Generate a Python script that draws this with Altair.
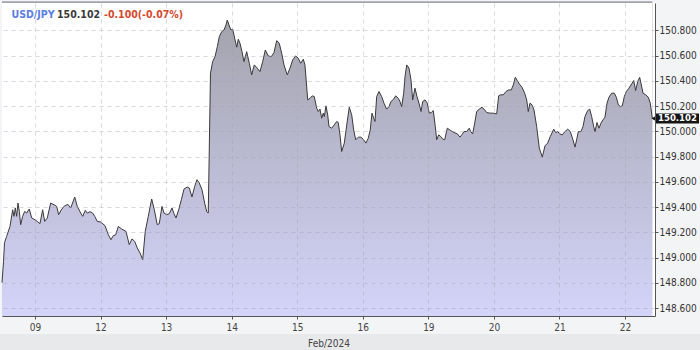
import altair as alt
import pandas as pd

FONT = "DejaVu Sans Condensed, DejaVu Sans"

symbol = "USD/JPY"
last_text = "150.102"
change_text = "-0.100(-0.07%)"
day_labels = ["09", "12", "13", "14", "15", "16", "19", "20", "21", "22"]
month_label = "Feb/2024"
y_ticks = [148.6, 148.8, 149.0, 149.2, 149.4, 149.6, 149.8, 150.0, 150.2, 150.4, 150.6, 150.8]

# time in trading-day units (0 = 09 Feb, 1 = 12 Feb, ...)
t_days = [
    -0.503, -0.480, -0.465, -0.432, -0.381, -0.340, -0.320, -0.300, -0.279, -0.259,
    -0.239, -0.218, -0.188, -0.157, -0.127, -0.087, -0.050, 0.000, 0.035, 0.076,
    0.117, 0.148, 0.188, 0.239, 0.290, 0.331, 0.361, 0.401, 0.453, 0.503,
    0.545, 0.606, 0.645, 0.697, 0.728, 0.767, 0.798, 0.839, 0.880, 0.911,
    0.950, 1.002,
    1.068, 1.118, 1.159, 1.194, 1.231, 1.271, 1.322, 1.388, 1.438, 1.480,
    1.521, 1.560, 1.602, 1.643, 1.682, 1.728, 1.780, 1.820, 1.865, 1.896,
    1.937, 1.968, 2.009, 2.049, 2.090, 2.120, 2.151, 2.192, 2.232, 2.273,
    2.323, 2.354, 2.395, 2.436, 2.471, 2.506, 2.547, 2.588, 2.619, 2.643,
    2.677, 2.710, 2.746, 2.781, 2.811, 2.848, 2.883, 2.913, 2.933, 2.964,
    2.990, 3.016, 3.046, 3.077, 3.101, 3.127, 3.157, 3.188, 3.229, 3.269,
    3.305, 3.345, 3.391, 3.432, 3.473, 3.513, 3.559, 3.604, 3.645, 3.687,
    3.726, 3.763, 3.798, 3.848, 3.890, 3.931, 3.976, 4.016, 4.053, 4.092,
    4.118, 4.160, 4.195, 4.230, 4.260, 4.297, 4.321, 4.347, 4.373, 4.397,
    4.413, 4.439, 4.465, 4.484, 4.526, 4.565, 4.602, 4.626, 4.652, 4.678,
    4.718, 4.759, 4.794, 4.831, 4.861, 4.892, 4.931, 4.972, 5.014, 5.049,
    5.084, 5.114, 5.140, 5.166, 5.186, 5.212, 5.247, 5.288, 5.323, 5.364,
    5.400, 5.430, 5.471, 5.502, 5.541, 5.567, 5.593, 5.624, 5.644, 5.670,
    5.705, 5.735, 5.761, 5.796, 5.827, 5.857, 5.888, 5.914, 5.949, 5.984,
    6.014, 6.045, 6.075, 6.106, 6.127, 6.158, 6.188, 6.219, 6.249, 6.289,
    6.341, 6.391, 6.441, 6.482, 6.513, 6.544, 6.585, 6.624, 6.646, 6.676,
    6.707, 6.737, 6.777, 6.818, 6.849, 6.890, 6.940, 6.990, 7.042, 7.073,
    7.103, 7.143, 7.184, 7.225, 7.265, 7.296, 7.326, 7.356, 7.387, 7.428,
    7.469, 7.500, 7.524, 7.550, 7.580, 7.611, 7.652, 7.692, 7.738, 7.779,
    7.820, 7.860, 7.912, 7.942, 7.973, 8.003, 8.043, 8.084, 8.125, 8.165,
    8.206, 8.237, 8.267, 8.287, 8.328, 8.359, 8.389, 8.430, 8.461, 8.491,
    8.522, 8.542, 8.572, 8.603, 8.633, 8.664, 8.694, 8.725, 8.755, 8.796,
    8.836, 8.867, 8.897, 8.928, 8.958, 8.989, 9.019, 9.060, 9.101, 9.132,
    9.162, 9.193, 9.223, 9.243, 9.274, 9.315, 9.355, 9.385, 9.416,
]

price = [
    148.802, 148.968, 149.119, 149.168, 149.247, 149.379, 149.327, 149.393, 149.327, 149.432,
    149.366, 149.261, 149.327, 149.366, 149.353, 149.385, 149.314, 149.300, 149.287, 149.269,
    149.379, 149.287, 149.314, 149.432, 149.419, 149.406, 149.340, 149.379, 149.411, 149.421,
    149.393, 149.480, 149.406, 149.353, 149.327, 149.374, 149.353, 149.364, 149.353, 149.327,
    149.287, 149.282,
    149.253, 149.182, 149.142, 149.174, 149.180, 149.247, 149.227, 149.208, 149.103, 149.148,
    149.129, 149.077, 149.037, 148.984, 149.208, 149.327, 149.464, 149.379, 149.261, 149.269,
    149.406, 149.353, 149.340, 149.348, 149.393, 149.348, 149.314, 149.379, 149.458, 149.543,
    149.559, 149.551, 149.480, 149.564, 149.617, 149.591, 149.538, 149.432, 149.366, 149.353,
    150.460, 150.552, 150.591, 150.670, 150.749, 150.789, 150.802, 150.842, 150.881, 150.834,
    150.802, 150.808, 150.737, 150.666, 150.729, 150.697, 150.631, 150.552, 150.631, 150.539,
    150.447, 150.526, 150.500, 150.473, 150.552, 150.644, 150.597, 150.591, 150.623, 150.718,
    150.697, 150.618, 150.526, 150.447, 150.500, 150.565, 150.597, 150.579, 150.539, 150.571,
    150.526, 150.249, 150.262, 150.281, 150.275, 150.183, 150.157, 150.176, 150.104, 150.144,
    150.117, 150.202, 150.130, 150.038, 150.025, 150.051, 150.078, 150.070, 149.972, 149.840,
    149.907, 150.065, 150.191, 150.130, 150.012, 149.933, 149.954, 149.954, 149.933, 149.907,
    149.946, 150.012, 150.144, 150.104, 150.078, 150.275, 150.315, 150.275, 150.223, 150.176,
    150.196, 150.236, 150.255, 150.281, 150.262, 150.236, 150.196, 150.302, 150.433, 150.526,
    150.500, 150.407, 150.249, 150.342, 150.275, 150.223, 150.157, 150.236, 150.249, 150.223,
    150.144, 150.149, 150.164, 150.038, 149.933, 149.972, 149.959, 149.938, 149.933, 150.025,
    150.006, 149.991, 149.980, 149.954, 149.975, 149.998, 149.998, 150.025, 149.998, 149.980,
    150.065, 150.157, 150.176, 150.191, 150.176, 150.149, 150.144, 150.144, 150.138, 150.281,
    150.289, 150.289, 150.315, 150.328, 150.328, 150.368, 150.428, 150.402, 150.376, 150.349,
    150.302, 150.249, 150.157, 150.223, 150.210, 150.170, 150.038, 149.867, 149.796, 149.885,
    149.907, 149.959, 150.017, 149.991, 149.998, 149.980, 149.972, 149.998, 150.017, 149.998,
    149.933, 149.875, 149.946, 149.998, 149.998, 150.038, 150.117, 150.164, 150.176, 150.117,
    150.038, 149.998, 150.070, 150.025, 150.065, 150.091, 150.112, 150.223, 150.270, 150.302,
    150.302, 150.270, 150.210, 150.196, 150.202, 150.275, 150.315, 150.342, 150.376, 150.402,
    150.323, 150.394, 150.428, 150.381, 150.302, 150.289, 150.270, 150.223, 150.102,
]

assert len(t_days) == len(price)
df = pd.DataFrame({"t": t_days, "price": price})

Y_MIN, Y_MAX = 148.538, 151.016
W, H = 653, 313
x_scale = alt.Scale(domain=[-0.503, 9.457], nice=False, zero=False)
y_scale = alt.Scale(domain=[Y_MIN, Y_MAX], nice=False, zero=False)

label_js = "[" + ",".join(f"'{d}'" for d in day_labels) + "][datum.value]"

x_axis = alt.Axis(
    values=list(range(len(day_labels))), labelExpr=label_js, title=month_label,
    grid=True, gridDash=[4, 4], gridColor="#a0a0ae", gridOpacity=0.4,
    domainColor="#555555", tickColor="#555555", tickSize=3, labelPadding=3,
    labelFontSize=10, labelColor="#444444", labelFont=FONT,
    titleFontSize=10, titleFontWeight="normal", titleColor="#444444", titleFont=FONT,
    titlePadding=6, zindex=1,
)
y_axis = alt.Axis(
    orient="right", values=y_ticks, format=".3f", title=None,
    grid=True, gridDash=[4, 4], gridColor="#a0a0ae", gridOpacity=0.4,
    domainColor="#555555", tickColor="#555555", tickSize=3, labelPadding=1,
    labelFontSize=10, labelColor="#333333", labelFont=FONT, zindex=1,
)

# vertical colour gradient under the curve: thin colour strips, masked above the line
top_col, bottom_col = "#a3a3ad", "#d4d4fa"
step = 0.02
strips = (
    alt.Chart(alt.sequence(Y_MIN, Y_MAX, step, as_="lo"))
    .transform_calculate(hi=f"datum.lo + {step * 1.6}", mid=f"datum.lo + {step / 2}")
    .mark_rect()
    .encode(
        x=alt.datum(t_days[0], scale=x_scale),
        x2=alt.datum(t_days[-1]),
        y=alt.Y("lo:Q", scale=y_scale, axis=y_axis),
        y2="hi:Q",
        color=alt.Color(
            "mid:Q",
            scale=alt.Scale(domain=[Y_MIN, max(price)], range=[bottom_col, top_col],
                            interpolate="rgb", clamp=True),
            legend=None,
        ),
    )
)

mask = (
    alt.Chart(df)
    .transform_calculate(top=f"{Y_MAX}")
    .mark_area(color="white")
    .encode(
        x=alt.X("t:Q", scale=x_scale, axis=x_axis),
        y=alt.Y("price:Q", scale=y_scale, axis=y_axis),
        y2="top:Q",
    )
)

line = alt.Chart(df).mark_line(color="#3a3a3a", strokeWidth=1).encode(
    x=alt.X("t:Q", scale=x_scale, axis=x_axis),
    y=alt.Y("price:Q", scale=y_scale, axis=y_axis),
)

band = alt.Chart(pd.DataFrame({"a": [0]})).mark_rect(color="#e8e9eb").encode(
    x=alt.value(-2), x2=alt.value(698), y=alt.value(331), y2=alt.value(347)
)

title_df = pd.DataFrame({"s": [symbol], "l": [last_text], "c": [change_text]})
t1 = alt.Chart(title_df).mark_text(
    align="left", baseline="alphabetic", font=FONT, fontSize=10.5, fontWeight="bold", color="#5a7de6"
).encode(x=alt.value(9.5), y=alt.value(14.5), text="s:N")
t2 = alt.Chart(title_df).mark_text(
    align="left", baseline="alphabetic", font=FONT, fontSize=10.5, fontWeight="bold", color="#3a3a3a"
).encode(x=alt.value(55), y=alt.value(14.5), text="l:N")
t3 = alt.Chart(title_df).mark_text(
    align="left", baseline="alphabetic", font=FONT, fontSize=10.5, fontWeight="bold", color="#d8472c"
).encode(x=alt.value(102), y=alt.value(14.5), text="c:N")

mk_df = pd.DataFrame({"price": [price[-1]], "label": [last_text]})
mk_base = alt.Chart(mk_df).transform_calculate(hi="datum.price + 0.04", lo="datum.price - 0.04")
mk_rect = mk_base.mark_rect(color="#151515").encode(
    x=alt.value(654), x2=alt.value(697),
    y=alt.Y("hi:Q", scale=y_scale, axis=y_axis), y2="lo:Q",
)
mk_tri = mk_base.mark_point(shape="triangle-left", filled=True, size=35, color="#151515", opacity=1).encode(
    x=alt.value(652), y=alt.Y("price:Q", scale=y_scale, axis=y_axis)
)
mk_text = mk_base.mark_text(
    color="white", font=FONT, fontSize=9.5, fontWeight="bold", align="center", baseline="middle"
).encode(x=alt.value(675.5), y=alt.Y("price:Q", scale=y_scale, axis=y_axis), text="label:N")

chart = alt.layer(band, strips, mask, line, t1, t2, t3, mk_rect, mk_tri, mk_text).properties(
    width=W, height=H,
    padding={"left": 2, "top": 3, "right": 45, "bottom": 34},
    autosize="none",
).configure(background="#f3f4f6").configure_view(fill="white", strokeWidth=0)

chart.save("out.html", embed_options={"renderer": "svg", "actions": False})
